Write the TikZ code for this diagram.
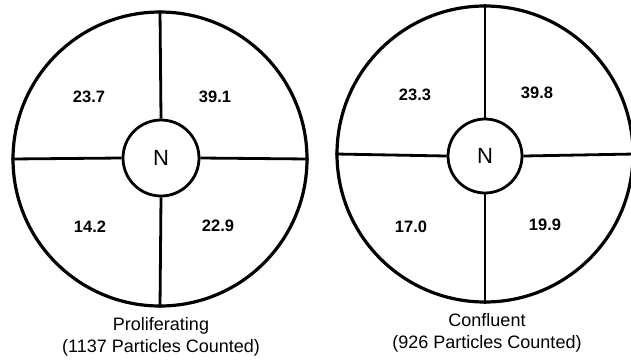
\documentclass[tikz,border=0pt]{standalone}
\usepackage{fontspec}
\setmainfont{Liberation Sans}
\usepackage{tikz}
\usetikzlibrary{positioning}
\tikzset{
  cellbox/.style={
    circle, draw=black, line width=3.2pt,
    minimum size=#1, inner sep=0pt
  },
  cellbox/.default=294pt,
  nucbox/.style={
    circle, draw=black, line width=2.8pt,
    minimum size=76pt, inner sep=0pt,
    font=\fontsize{22}{26}\selectfont
  },
  divline/.style={
    line width=2.8pt, color=black
  },
  pctnode/.style={
    font=\fontsize{16.5}{20}\selectfont\bfseries
  },
  capnode/.style={
    font=\fontsize{18}{21.5}\selectfont, align=center
  },
}

\begin{document}
\begin{tikzpicture}[x=1pt, y=-1pt]
\useasboundingbox (0,0) rectangle (631,362);

% Left cell: proliferating
\node[cellbox=294pt] (cellL) at (160,159) {};
\node[nucbox] (nucL) at (161,158) {N};
\draw[divline] (nucL.north) -- (cellL.north);
\draw[divline] (nucL.south) -- (cellL.south);
\draw[divline] (nucL.west) -- (cellL.west);
\draw[divline] (nucL.east) -- (cellL.east);

\node[pctnode] (pL1) at (89,97) {23.7};
\node[pctnode] (pL2) at (215,97) {39.1};
\node[pctnode] (pL3) at (90,227) {14.2};
\node[pctnode] (pL4) at (218,226) {22.9};

\node[capnode] (capL) at (161,337) {Proliferating\\(1137 Particles Counted)};

% Right cell: confluent
\node[cellbox=296pt] (cellR) at (485,154) {};
\node[nucbox, minimum size=74pt] (nucR) at (485,156) {N};
\draw[divline] (nucR.north) -- (cellR.north);
\draw[divline] (nucR.south) -- (cellR.south);
\draw[divline] (nucR.west) -- (cellR.west);
\draw[divline] (nucR.east) -- (cellR.east);

\node[pctnode] (pR1) at (415,95) {23.3};
\node[pctnode] (pR2) at (537,93) {39.8};
\node[pctnode] (pR3) at (411,227) {17.0};
\node[pctnode] (pR4) at (545,225) {19.9};

\node[capnode] (capR) at (487,333) {Confluent\\(926 Particles Counted)};

\end{tikzpicture}
\end{document}
